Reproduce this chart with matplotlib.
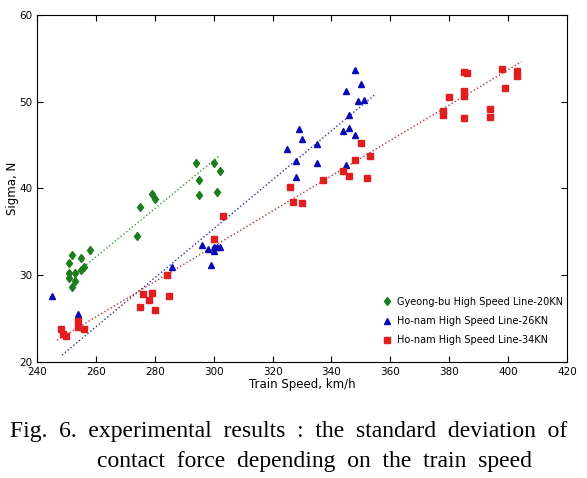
import matplotlib
matplotlib.use("Agg")
from matplotlib import pyplot as plt

# Gyeong-bu High Speed Line-20KN
gb_speed = [251, 251, 251, 252, 252, 253, 253, 255, 255, 256, 258,
            274, 275, 279, 280, 294, 295, 295, 300, 301, 302]
gb_sigma = [31.4, 30.3, 29.7, 32.3, 28.7, 30.3, 29.3, 32.0, 30.6, 31.0, 32.9,
            34.5, 37.9, 39.4, 38.8, 42.9, 41.0, 39.3, 42.9, 39.6, 42.0]

# Ho-nam High Speed Line-26KN
hn26_speed = [245, 254, 286, 296, 298, 299, 300, 300, 301, 302,
              325, 328, 328, 329, 330, 335, 335, 344, 345, 345, 346, 346,
              348, 348, 349, 350, 351]
hn26_sigma = [27.6, 25.5, 30.9, 33.5, 33.0, 31.2, 32.8, 33.3, 33.3, 33.2,
              44.5, 43.2, 41.3, 46.8, 45.7, 45.1, 42.9, 46.6, 51.2, 42.7, 48.5, 47.0,
              53.7, 46.2, 50.1, 52.0, 50.2]

# Ho-nam High Speed Line-34KN
hn34_speed = [248, 249, 250, 254, 254, 256, 275, 276, 278, 279, 280, 284, 285,
              300, 303, 326, 327, 330, 337, 344, 346, 348, 350, 352, 353,
              378, 378, 380, 385, 386, 385, 385, 385, 394, 394, 398, 399, 403, 403]
hn34_sigma = [23.8, 23.2, 23.0, 24.7, 24.0, 23.8, 26.3, 27.8, 27.2, 28.0, 26.0, 30.0, 27.6,
              34.2, 36.8, 40.2, 38.4, 38.3, 41.0, 42.0, 41.4, 43.3, 45.2, 41.2, 43.8,
              48.9, 48.5, 50.5, 53.4, 53.3, 51.2, 50.7, 48.1, 49.2, 48.2, 53.8, 51.6, 53.5, 53.0]

# trend line end points
gb_trend_x, gb_trend_y = [253.9, 302.0], [30.4, 43.8]
hn26_trend_x, hn26_trend_y = [248.5, 354.7], [20.8, 50.8]
hn34_trend_x, hn34_trend_y = [246.8, 404.5], [22.5, 54.6]

green, blue, red = "#1b7d1b", "#0a0ab4", "#e01e1e"

fig = plt.figure(figsize=(5.87, 4.78), dpi=100)
ax = fig.add_axes([0.063, 0.2427, 0.903, 0.726])

ax.plot(gb_trend_x, gb_trend_y, ":", color="#3a9a3a", lw=1.0)
ax.plot(hn26_trend_x, hn26_trend_y, ":", color="#3030a0", lw=1.0)
ax.plot(hn34_trend_x, hn34_trend_y, ":", color="#c03030", lw=1.0)

ax.plot(gb_speed, gb_sigma, "d", color=green, ms=4.5, ls="none",
        label="Gyeong-bu High Speed Line-20KN")
ax.plot(hn26_speed, hn26_sigma, "^", color=blue, ms=5, ls="none",
        label="Ho-nam High Speed Line-26KN")
ax.plot(hn34_speed, hn34_sigma, "s", color=red, ms=4.5, ls="none",
        label="Ho-nam High Speed Line-34KN")

ax.set_xlim(240, 420)
ax.set_ylim(20, 60)
ax.set_xticks(range(240, 421, 20))
ax.set_yticks(range(20, 61, 10))
ax.tick_params(direction="in", top=True, right=True, labelsize=7.5, length=4, width=0.8)
for s in ax.spines.values():
    s.set_linewidth(0.8)
ax.set_xlabel("Train Speed, km/h", fontsize=8.5, labelpad=1)
ax.set_ylabel("Sigma, N", fontsize=8.5, labelpad=0)

ax.legend(loc="lower right", bbox_to_anchor=(1.0, 0.037), frameon=False,
          fontsize=7, handletextpad=0.4, borderaxespad=0, borderpad=0.4,
          labelspacing=0.95, handlelength=1.2)

fig.text(0.017, 0.097, "Fig.  6.  experimental  results  :  the  standard  deviation  of",
         family="Liberation Serif", fontsize=17, va="center", ha="left")
fig.text(0.165, 0.034, "contact  force  depending  on  the  train  speed",
         family="Liberation Serif", fontsize=17, va="center", ha="left")

fig.savefig("out.png", dpi=100)
